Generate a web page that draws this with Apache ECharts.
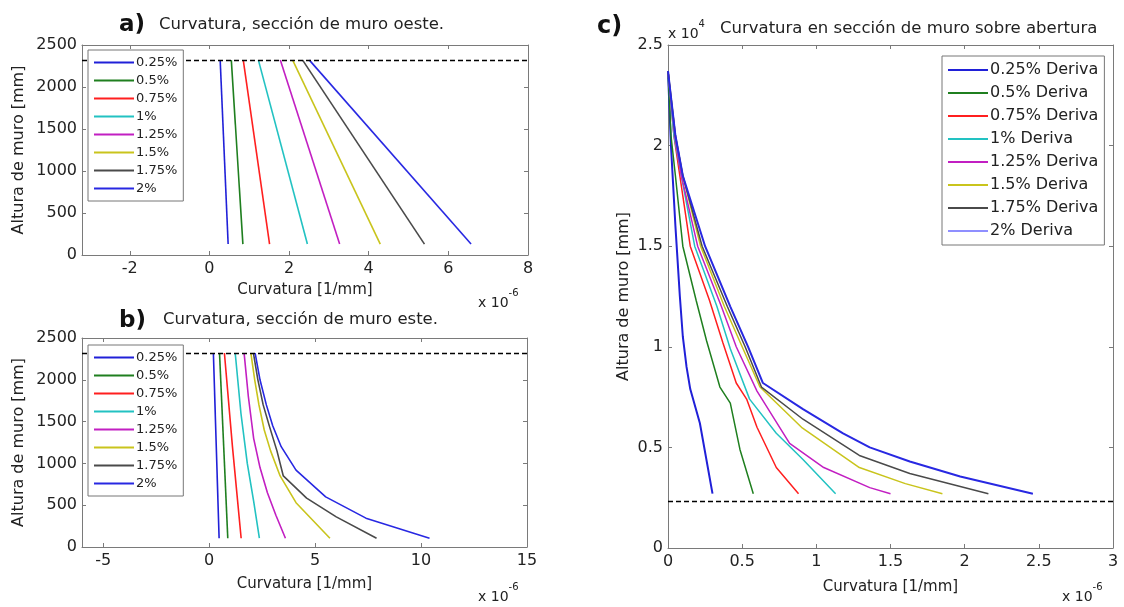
<!DOCTYPE html>
<html>
<head>
<meta charset="utf-8">
<script src="https://cdn.jsdelivr.net/npm/echarts@6/dist/echarts.min.js"></script>
<style>
  html, body { margin: 0; padding: 0; background: #fff; }
  #chart { width: 1124px; height: 607px; }
</style>
</head>
<body>
<div id="chart"></div>
<script>
// Curvature along the wall height for each drift level (x values in 1e-6 1/mm)
const drifts = ["0.25%", "0.5%", "0.75%", "1%", "1.25%", "1.5%", "1.75%", "2%"];
const driftLabelsC = drifts.map((d) => d + " Deriva");
const driftColors = ["#2020d8", "#1f7f1f", "#ff1f1f", "#22c2c2", "#c21fc2", "#c9c41c", "#4a4a4a", "#2828e2"];

// a) west wall section: straight lines between top and bottom heights
const oesteHeights = [2320, 130];
const oesteTop = [0.27, 0.55, 0.85, 1.23, 1.78, 2.09, 2.34, 2.51];
const oesteBottom = [0.47, 0.84, 1.51, 2.46, 3.27, 4.29, 5.40, 6.57];

// b) east wall section: [curvature, height mm]
const este025 = [[0.2, 2320], [0.47, 105]];
const este05 = [[0.49, 2320], [0.88, 105]];
const este075 = [[0.72, 2320], [1.1, 1200], [1.51, 105]];
const este1 = [[1.23, 2320], [1.5, 1600], [1.8, 1000], [2.1, 550], [2.37, 105]];
const este125 = [[1.65, 2320], [1.85, 1800], [2.1, 1300], [2.4, 950], [2.75, 650], [3.15, 380], [3.6, 105]];
const este15 = [[1.97, 2320], [2.15, 2000], [2.35, 1700], [2.6, 1400], [2.9, 1150], [3.35, 850], [4.1, 530], [5.7, 105]];
const este175 = [[2.09, 2320], [2.3, 2000], [2.55, 1700], [2.85, 1440], [3.2, 1150], [3.5, 850], [4.6, 585], [6.0, 360], [7.9, 105]];
const este2 = [[2.17, 2320], [2.4, 2000], [2.7, 1700], [3.0, 1450], [3.4, 1200], [4.1, 920], [5.5, 600], [7.4, 345], [10.4, 105]];
const esteCurves = [este025, este05, este075, este1, este125, este15, este175, este2];

// c) wall section over opening: [curvature 1e-6, height 1e4 mm]
const sobre025 = [[0, 2.37], [0.02, 2.0], [0.05, 1.6], [0.08, 1.25], [0.1, 1.05], [0.125, 0.9], [0.15, 0.79], [0.215, 0.62], [0.3, 0.27]];
const sobre05 = [[0, 2.37], [0.02, 2.05], [0.05, 1.85], [0.1, 1.5], [0.19, 1.23], [0.26, 1.03], [0.35, 0.8], [0.42, 0.72], [0.485, 0.49], [0.575, 0.27]];
const sobre075 = [[0, 2.37], [0.04, 2.05], [0.08, 1.85], [0.15, 1.5], [0.28, 1.23], [0.37, 1.02], [0.46, 0.82], [0.53, 0.74], [0.6, 0.6], [0.73, 0.4], [0.88, 0.27]];
const sobre1 = [[0, 2.37], [0.04, 2.05], [0.09, 1.85], [0.18, 1.5], [0.33, 1.2], [0.42, 0.99], [0.55, 0.74], [0.73, 0.57], [0.91, 0.44], [1.13, 0.27]];
const sobre125 = [[0, 2.37], [0.045, 2.05], [0.09, 1.85], [0.2, 1.5], [0.36, 1.2], [0.46, 1.0], [0.6, 0.78], [0.82, 0.52], [1.05, 0.4], [1.36, 0.3], [1.5, 0.27]];
const sobre15 = [[0, 2.37], [0.05, 2.05], [0.1, 1.85], [0.22, 1.5], [0.38, 1.2], [0.5, 1.0], [0.62, 0.8], [0.9, 0.6], [1.29, 0.4], [1.6, 0.32], [1.85, 0.27]];
const sobre175 = [[0, 2.37], [0.05, 2.05], [0.1, 1.85], [0.23, 1.5], [0.4, 1.2], [0.52, 1.0], [0.63, 0.8], [0.91, 0.64], [1.29, 0.46], [1.63, 0.37], [2.16, 0.27]];
const sobre2 = [[0, 2.37], [0.05, 2.05], [0.1, 1.85], [0.25, 1.5], [0.42, 1.2], [0.54, 1.0], [0.64, 0.82], [0.91, 0.69], [1.18, 0.57], [1.36, 0.5], [1.63, 0.43], [1.97, 0.355], [2.46, 0.27]];
const sobreCurves = [sobre025, sobre05, sobre075, sobre1, sobre125, sobre15, sobre175, sobre2];

// dashed reference heights
const dashA = 2320, dashB = 2320, dashC = 0.23;

// tick labels
const ticksXA = [-2, 0, 2, 4, 6, 8];
const ticksXB = [-5, 0, 5, 10, 15];

const FONT = "DejaVu Sans";
const axisGray = "#7a7a7a";
const plain = (v) => String(v);

function xAx(grid, pos, min, max, ticks, interval, name, gap) {
  const lbl = pos === "bottom";
  const ax = {
    type: "value", gridIndex: grid, position: pos, min, max,
    axisLine: { show: true, onZero: false, lineStyle: { color: axisGray, width: 1 } },
    axisTick: { show: true, inside: true, length: 4, lineStyle: { color: axisGray } },
    axisLabel: { show: lbl, color: "#222", fontSize: 16, fontFamily: FONT, margin: 6, formatter: plain },
    splitLine: { show: false },
  };
  if (ticks) {
    ax.axisLabel.customValues = ticks;
    ax.axisTick.customValues = ticks;
  } else {
    ax.interval = interval;
  }
  if (lbl) {
    ax.name = name;
    ax.nameLocation = "middle";
    ax.nameGap = gap;
    ax.nameTextStyle = { color: "#222", fontSize: 15, fontFamily: FONT };
  }
  return ax;
}

function yAx(grid, pos, max, interval, name, gap) {
  const lbl = pos === "left";
  const ax = {
    type: "value", gridIndex: grid, position: pos, min: 0, max, interval,
    axisLine: { show: true, onZero: false, lineStyle: { color: axisGray, width: 1 } },
    axisTick: { show: true, inside: true, length: 4, lineStyle: { color: axisGray } },
    axisLabel: { show: lbl, color: "#222", fontSize: 16, fontFamily: FONT, margin: 5, formatter: plain },
    splitLine: { show: false },
  };
  if (lbl) {
    ax.name = name;
    ax.nameLocation = "middle";
    ax.nameRotate = 90;
    ax.nameGap = gap;
    ax.nameTextStyle = { color: "#222", fontSize: 16, fontFamily: FONT };
  }
  return ax;
}

const series = [];
drifts.forEach((d, i) => {
  series.push({
    name: d, type: "line", xAxisIndex: 0, yAxisIndex: 0, symbol: "none",
    data: [[oesteTop[i], oesteHeights[0]], [oesteBottom[i], oesteHeights[1]]],
    lineStyle: { color: driftColors[i], width: 1.6 }, itemStyle: { color: driftColors[i] },
  });
});
drifts.forEach((d, i) => {
  series.push({
    name: d, type: "line", xAxisIndex: 2, yAxisIndex: 2, symbol: "none",
    data: esteCurves[i],
    lineStyle: { color: driftColors[i], width: 1.6 }, itemStyle: { color: driftColors[i] },
  });
});
driftLabelsC.forEach((d, i) => {
  series.push({
    name: d, type: "line", xAxisIndex: 4, yAxisIndex: 4, symbol: "none",
    data: sobreCurves[i],
    lineStyle: { color: driftColors[i], width: (i === 0 || i === 7) ? 2 : 1.5 },
    itemStyle: { color: driftColors[i] },
  });
});
[[0, dashA], [2, dashB], [4, dashC]].forEach(([ax, v]) => {
  series.push({
    type: "line", xAxisIndex: ax, yAxisIndex: ax, data: [],
    markLine: {
      silent: true, symbol: "none", label: { show: false },
      lineStyle: { color: "#000", type: [5, 3], width: 1.4 },
      data: [{ yAxis: v }],
    },
  });
});

// legend boxes sit above the plotted lines (the dashed line runs under them)
function legendAt(left, top, names, fontSize, gap, colorsOverride) {
  return {
    orient: "vertical", left, top, z: 20,
    data: names.map((n, i) => colorsOverride && colorsOverride[i]
      ? { name: n, itemStyle: { color: colorsOverride[i] } } : { name: n }),
    icon: "rect", itemWidth: 40, itemHeight: 2, itemGap: gap,
    backgroundColor: "#fff", borderColor: "#777", borderWidth: 1, borderRadius: 0,
    padding: [6, 6, 6, 6],
    textStyle: { fontSize, fontFamily: FONT, color: "#222", padding: [0, 0, 0, -3] },
    selectedMode: false,
  };
}

function sup(left, top, base, exp) {
  return {
    type: "text", left, top,
    style: {
      text: "{b|" + base + "}{s|" + exp + "}",
      rich: {
        b: { fontSize: 14, fontFamily: FONT, fill: "#222", verticalAlign: "bottom", lineHeight: 22 },
        s: { fontSize: 10, fontFamily: FONT, fill: "#222", verticalAlign: "top", lineHeight: 22 },
      },
    },
  };
}

function label(left, top, text, size, bold) {
  return {
    type: "text", left, top,
    style: { text, fontSize: size, fontWeight: bold ? "bold" : "normal", fontFamily: FONT, fill: bold ? "#111" : "#222" },
  };
}

const chart = echarts.init(document.getElementById("chart"));
chart.setOption({
  animation: false,
  textStyle: { fontFamily: FONT },
  grid: [
    { left: 82, top: 45, width: 446, height: 210, outerBoundsMode: "none" },
    { left: 82, top: 338, width: 445, height: 209, outerBoundsMode: "none" },
    { left: 668, top: 45, width: 445, height: 503, outerBoundsMode: "none" },
  ],
  xAxis: [
    xAx(0, "bottom", -3.2, 8, ticksXA, null, "Curvatura [1/mm]", 28),
    xAx(0, "top", -3.2, 8, ticksXA),
    xAx(1, "bottom", -6, 15, ticksXB, null, "Curvatura [1/mm]", 30),
    xAx(1, "top", -6, 15, ticksXB),
    xAx(2, "bottom", 0, 3, null, 0.5, "Curvatura [1/mm]", 32),
    xAx(2, "top", 0, 3, null, 0.5),
  ],
  yAxis: [
    yAx(0, "left", 2500, 500, "Altura de muro [mm]", 55),
    yAx(0, "right", 2500, 500),
    yAx(1, "left", 2500, 500, "Altura de muro [mm]", 55),
    yAx(1, "right", 2500, 500),
    yAx(2, "left", 2.5, 0.5, "Altura de muro [mm]", 36),
    yAx(2, "right", 2.5, 0.5),
  ],
  legend: [
    legendAt(88, 50, drifts.slice(), 13, 5),
    legendAt(88, 345, drifts.slice(), 13, 5),
    legendAt(942, 56, driftLabelsC, 16, 7, [null, null, null, null, null, null, null, "#8f8fff"]),
  ],
  series,
  graphic: [
    label(119, 14, "a)", 23, true),
    label(159, 16, "Curvatura, sección de muro oeste.", 16.5),
    label(119, 310, "b)", 23, true),
    label(163, 311, "Curvatura, sección de muro este.", 16.5),
    label(597, 15, "c)", 24, true),
    sup(668, 19, "x 10", "4"),
    label(720, 20, "Curvatura en sección de muro sobre abertura", 16.5),
    sup(478, 288, "x 10", "-6"),
    sup(478, 582, "x 10", "-6"),
    sup(1062, 582, "x 10", "-6"),
  ],
});
</script>
</body>
</html>
